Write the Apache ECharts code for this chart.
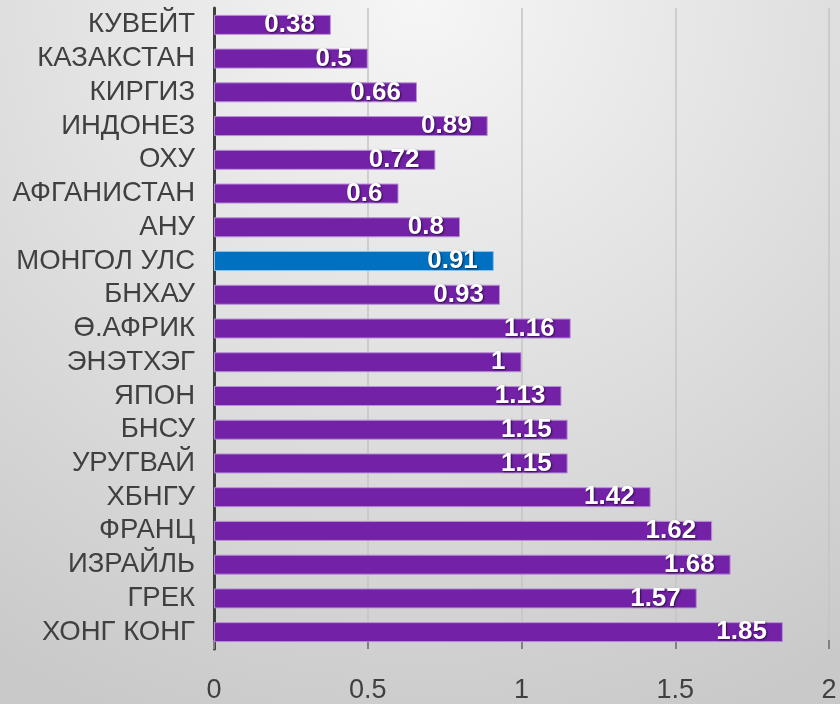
<!DOCTYPE html>
<html>
<head>
<meta charset="utf-8">
<script src="https://cdn.jsdelivr.net/npm/echarts@6/dist/echarts.min.js"></script>
<style>
  html, body { margin: 0; padding: 0; }
  body {
    width: 840px; height: 704px;
    background: radial-gradient(ellipse 95% 110% at 50% 0%, #f6f6f6 0%, #e2e2e2 45%, #c9c9c9 100%);
  }
  #chart { width: 840px; height: 704px; }
</style>
</head>
<body>
<div id="chart"></div>
<script>
const countries = ['КУВЕЙТ', 'КАЗАКСТАН', 'КИРГИЗ', 'ИНДОНЕЗ', 'ОХУ', 'АФГАНИСТАН', 'АНУ', 'МОНГОЛ УЛС', 'БНХАУ', 'Ө.АФРИК', 'ЭНЭТХЭГ', 'ЯПОН', 'БНСУ', 'УРУГВАЙ', 'ХБНГУ', 'ФРАНЦ', 'ИЗРАЙЛЬ', 'ГРЕК', 'ХОНГ КОНГ']
const values = [0.38, 0.5, 0.66, 0.89, 0.72, 0.6, 0.8, 0.91, 0.93, 1.16, 1, 1.13, 1.15, 1.15, 1.42, 1.62, 1.68, 1.57, 1.85]
const highlight = 'МОНГОЛ УЛС'

const chart = echarts.init(document.getElementById('chart'))

const barData = values.map((v, i) => {
    const isMn = countries[i] === highlight
    return {
        value: v,
        itemStyle: {
            color: isMn ? '#0070c0' : '#7321a7',
            borderColor: isMn ? '#8cc0ea' : '#b88fd6',
            borderWidth: 1
        }
    }
})

chart.setOption({
    animation: false,
    grid: { left: 214, right: 11, top: 8, bottom: 54 },
    xAxis: {
        type: 'value',
        min: 0,
        max: 2,
        interval: 0.5,
        axisLine: { show: false },
        axisTick: { show: true, length: 9, inside: true, lineStyle: { color: '#808080', width: 2 } },
        axisLabel: {
            color: '#404040',
            fontSize: 27,
            fontFamily: 'Liberation Sans, Arial, sans-serif',
            margin: 28
        },
        splitLine: { show: true, lineStyle: { color: '#c4c4c4', width: 1.5 } }
    },
    yAxis: {
        type: 'category',
        inverse: true,
        data: countries,
        axisLine: { show: true, lineStyle: { color: '#404040', width: 3 } },
        axisTick: { show: false },
        axisLabel: {
            interval: 0,
            color: '#404040',
            fontSize: 27.5,
            fontFamily: 'Liberation Sans, Arial, sans-serif',
            margin: 19
        }
    },
    series: [{
        type: 'bar',
        data: barData,
        barWidth: 20,
        label: {
            show: true,
            position: 'insideRight',
            distance: 16,
            color: '#ffffff',
            fontSize: 26,
            fontWeight: 'bold',
            fontFamily: 'Liberation Sans, Arial, sans-serif',
            textShadowColor: 'rgba(0,0,0,0.6)',
            textShadowBlur: 2,
            textShadowOffsetX: 1,
            textShadowOffsetY: 1
        }
    }]
})
</script>
</body>
</html>
